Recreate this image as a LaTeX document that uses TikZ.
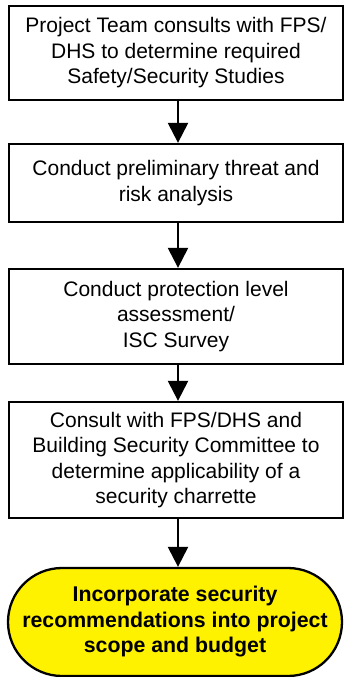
\documentclass[tikz,border=0pt]{standalone}
\usepackage{fontspec}
\setmainfont{Liberation Sans}
\usetikzlibrary{arrows.meta}
\tikzset{
  stepbox/.style={draw=black, line width=2.3pt, fill=white, rectangle,
    minimum width=334pt, inner sep=0pt, align=center,
    font=\fontsize{21pt}{25.5pt}\selectfont},
  endbox/.style={draw=black, line width=2.3pt, fill=yellow, rectangle,
    rounded corners=54pt, minimum width=334pt, minimum height=108pt,
    inner sep=0pt, align=center,
    font=\fontsize{21.3pt}{25.5pt}\selectfont\bfseries},
  flow/.style={draw=black, line width=2.3pt,
    -{Triangle[width=20pt,length=20pt]}}
}
\begin{document}
\begin{tikzpicture}
\useasboundingbox (0pt,0pt) rectangle (344pt,-677pt);
\node[stepbox, minimum height=94pt] (b1) at (176pt,-53pt)
  {Project Team consults with FPS/\\DHS to determine required\\Safety/Security Studies};
\node[stepbox, minimum height=78pt] (b2) at (176pt,-183pt)
  {Conduct preliminary threat and\\risk analysis};
\node[stepbox, minimum height=95pt] (b3) at (176pt,-316.5pt)
  {Conduct protection level\\assessment/\\ISC Survey};
\node[stepbox, minimum height=116pt] (b4) at (176pt,-460pt)
  {Consult with FPS/DHS and\\Building Security Committee to\\determine applicability of a\\security charrette};
\node[endbox] (e) at (175pt,-622pt)
  {Incorporate security\\recommendations into project\\scope and budget};
\draw[flow] ([xshift=2pt]b1.south) -- ([xshift=2pt]b2.north);
\draw[flow] ([xshift=2pt]b2.south) -- ([xshift=2pt]b3.north);
\draw[flow] ([xshift=2pt]b3.south) -- ([xshift=2pt]b4.north);
\draw[flow] ([xshift=2pt]b4.south) -- ([xshift=3pt]e.north);
\end{tikzpicture}
\end{document}
